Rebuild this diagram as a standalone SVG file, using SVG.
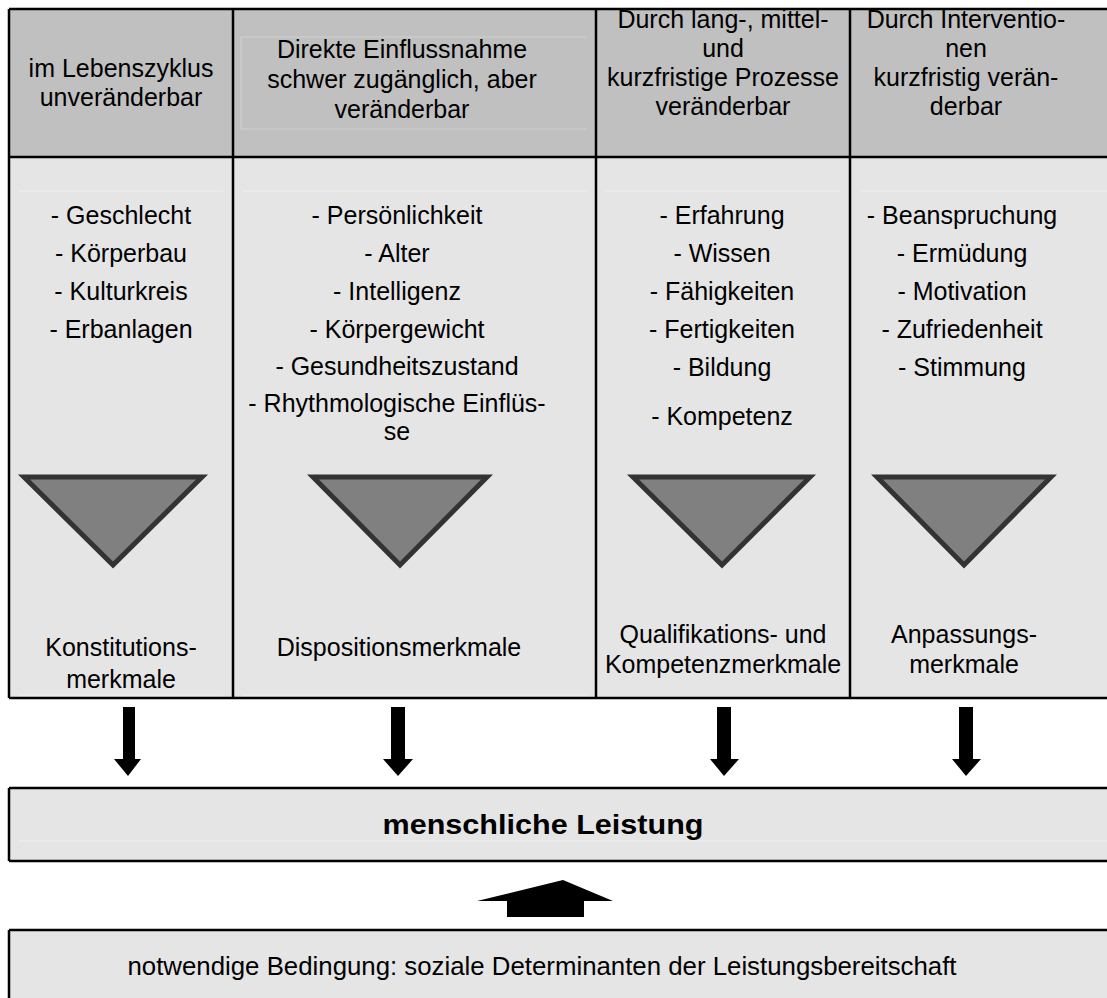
<svg xmlns="http://www.w3.org/2000/svg" width="1107" height="998" viewBox="0 0 1107 998">
<style>
text{font-family:"Liberation Sans",Arial,sans-serif;font-size:25px;fill:#000;text-anchor:middle}
.b{font-weight:bold;font-size:27px}
.hdr{fill:#c0c0c0}
.body{fill:#e5e5e5}
.line{stroke:#000;stroke-width:2.5;fill:none}
.faint{stroke:#f0f0f0;stroke-width:1.2;fill:none}
.faintH{stroke:#d0d0d0;stroke-width:1.2;fill:none}
.tri{fill:#808080;stroke:#333;stroke-width:5;stroke-linejoin:miter}
.arr{fill:#000}
</style>
<rect width="1107" height="998" fill="#fff"/>
<g id="table">
<rect class="hdr" x="9" y="9" width="1098" height="148"/>
<rect class="body" x="9" y="157" width="1098" height="541"/>
<path class="faintH" d="M241 37H587M241 37V129H587"/>
<path class="faint" d="M18 191H223M242 191H587M605 191H840M860 191H1107M18 695H223M242 695H587"/>
<path class="line" d="M9 9H1107M9 157H1107M9 698H1107M9 9V698M233 9V698M596 9V698M850 9V698"/>
</g>
<g id="col1">
<text x="121" y="77">im Lebenszyklus</text>
<text x="121" y="106">unveränderbar</text>
<text x="121" y="224">- Geschlecht</text>
<text x="121" y="262">- Körperbau</text>
<text x="121" y="300">- Kulturkreis</text>
<text x="121" y="338">- Erbanlagen</text>
<polygon class="tri" points="24,477 202,477 113,565"/>
<text x="121" y="656">Konstitutions-</text>
<text x="121" y="688">merkmale</text>
</g>
<g id="col2">
<text x="402" y="58">Direkte Einflussnahme</text>
<text x="402" y="88">schwer zugänglich, aber</text>
<text x="402" y="118">veränderbar</text>
<text x="397" y="224">- Persönlichkeit</text>
<text x="397" y="262">- Alter</text>
<text x="397" y="300">- Intelligenz</text>
<text x="397" y="338">- Körpergewicht</text>
<text x="397" y="375">- Gesundheitszustand</text>
<text x="397" y="412">- Rhythmologische Einflüs-</text>
<text x="397" y="440">se</text>
<polygon class="tri" points="313,477 487,477 400,565"/>
<text x="399" y="656">Dispositionsmerkmale</text>
</g>
<g id="col3">
<text x="723" y="28">Durch lang-, mittel-</text>
<text x="723" y="57">und</text>
<text x="723" y="86">kurzfristige Prozesse</text>
<text x="723" y="115">veränderbar</text>
<text x="722" y="224">- Erfahrung</text>
<text x="722" y="262">- Wissen</text>
<text x="722" y="300">- Fähigkeiten</text>
<text x="722" y="338">- Fertigkeiten</text>
<text x="722" y="376">- Bildung</text>
<text x="722" y="425">- Kompetenz</text>
<polygon class="tri" points="633,477 810,477 722,565"/>
<text x="723" y="643">Qualifikations- und</text>
<text x="723" y="673">Kompetenzmerkmale</text>
</g>
<g id="col4">
<text x="966" y="28">Durch Interventio-</text>
<text x="966" y="57">nen</text>
<text x="966" y="86">kurzfristig verän-</text>
<text x="966" y="115">derbar</text>
<text x="962" y="224">- Beanspruchung</text>
<text x="962" y="262">- Ermüdung</text>
<text x="962" y="300">- Motivation</text>
<text x="962" y="338">- Zufriedenheit</text>
<text x="962" y="376">- Stimmung</text>
<polygon class="tri" points="877,477 1051,477 964,565"/>
<text x="964" y="643">Anpassungs-</text>
<text x="964" y="673">merkmale</text>
</g>
<g id="leistung">
<rect class="body" x="9" y="788" width="1098" height="73"/>
<path class="faint" d="M18 841H1107"/>
<path class="line" stroke-width="2" d="M9 788H1107M9 861H1107M9 788V861"/>
<text class="b" x="543" y="834" textLength="321" lengthAdjust="spacingAndGlyphs">menschliche Leistung</text>
</g>
<g id="bedingung">
<rect class="body" x="9" y="930" width="1098" height="68"/>
<path class="line" stroke-width="2" d="M9 930H1107M9 930V998"/>
<text x="542" y="975" textLength="829" lengthAdjust="spacingAndGlyphs">notwendige Bedingung: soziale Determinanten der Leistungsbereitschaft</text>
</g>
<g id="connectors">
<polygon class="arr" points="123,707 135,707 135,759 141,759 128,776 114,759 123,759"/>
<polygon class="arr" points="391,707 405,707 405,759 413,759 398,776 383,759 391,759"/>
<polygon class="arr" points="717,707 731,707 731,759 739,759 724,776 710,759 717,759"/>
<polygon class="arr" points="959,707 973,707 973,759 981,759 966,776 952,759 959,759"/>
<polygon class="arr" points="507,917 584,917 584,901 613,901 563,880 477,901 507,901"/>
</g>
</svg>
